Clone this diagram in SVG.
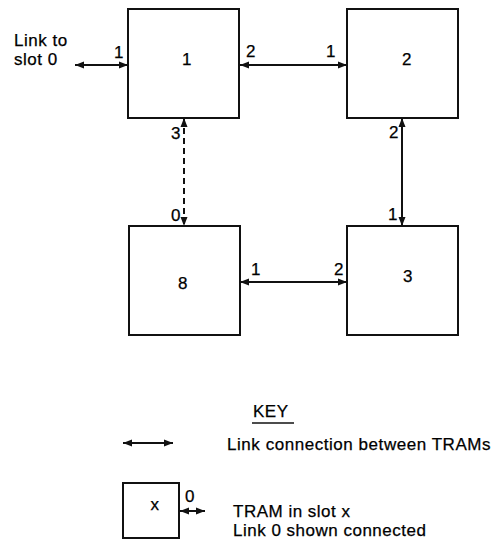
<svg xmlns="http://www.w3.org/2000/svg" width="493" height="542" viewBox="0 0 493 542">
<defs>
<marker id="ah" markerUnits="userSpaceOnUse" markerWidth="9" markerHeight="8" refX="9" refY="4" orient="auto-start-reverse">
<path d="M0,0.5 L9,4 L0,7.5 z" fill="#111"/>
</marker>
<style>
text{font-family:"Liberation Sans",Arial,sans-serif;font-size:17px;fill:#000;stroke:#000;stroke-width:0.25;letter-spacing:0.5px}
.box{fill:#fff;stroke:#111;stroke-width:2}
.lnk{stroke:#111;stroke-width:2;fill:none;marker-start:url(#ah);marker-end:url(#ah)}
.dash{stroke-dasharray:6 4}
.mid{text-anchor:middle}
</style>
</defs>
<rect width="493" height="542" fill="#fff"/>
<g id="connectors">
<line class="lnk" x1="75" y1="65" x2="128" y2="65"/>
<line class="lnk" x1="240" y1="65" x2="347" y2="65"/>
<line class="lnk" x1="402" y1="118" x2="402" y2="226"/>
<line class="lnk dash" x1="184" y1="118" x2="184" y2="226"/>
<line class="lnk" x1="240" y1="282" x2="347" y2="282"/>
</g>
<g id="port-labels">
<text x="14" y="46">Link to</text>
<text x="14" y="65">slot 0</text>
<text x="114" y="58">1</text>
<text x="246" y="57">2</text>
<text x="326" y="57">1</text>
<text x="389" y="138">2</text>
<text x="388" y="220">1</text>
<text x="171" y="139">3</text>
<text x="171" y="221">0</text>
<text x="251" y="275">1</text>
<text x="334" y="275">2</text>
</g>
<g id="node1"><rect class="box" x="128" y="9" width="111" height="109"/><text class="mid" x="187" y="65">1</text></g>
<g id="node2"><rect class="box" x="347" y="9" width="111" height="109"/><text class="mid" x="407" y="65">2</text></g>
<g id="node8"><rect class="box" x="129" y="226" width="111" height="109"/><text class="mid" x="183" y="289">8</text></g>
<g id="node3"><rect class="box" x="347" y="226" width="111" height="109"/><text class="mid" x="408" y="282">3</text></g>
<g id="key">
<text x="253" y="417">KEY</text>
<line x1="252" y1="423" x2="294" y2="423" stroke="#111" stroke-width="1.5"/>
<line class="lnk" x1="123" y1="443" x2="173" y2="443"/>
<text x="227" y="450" textLength="264" lengthAdjust="spacing">Link connection between TRAMs</text>
<rect class="box" x="123" y="483" width="56" height="55"/>
<text class="mid" x="155" y="510">x</text>
<text x="185" y="502">0</text>
<line class="lnk" x1="180" y1="511" x2="205" y2="511"/>
<text x="233" y="517">TRAM in slot x</text>
<text x="233" y="536">Link 0 shown connected</text>
</g>
</svg>
